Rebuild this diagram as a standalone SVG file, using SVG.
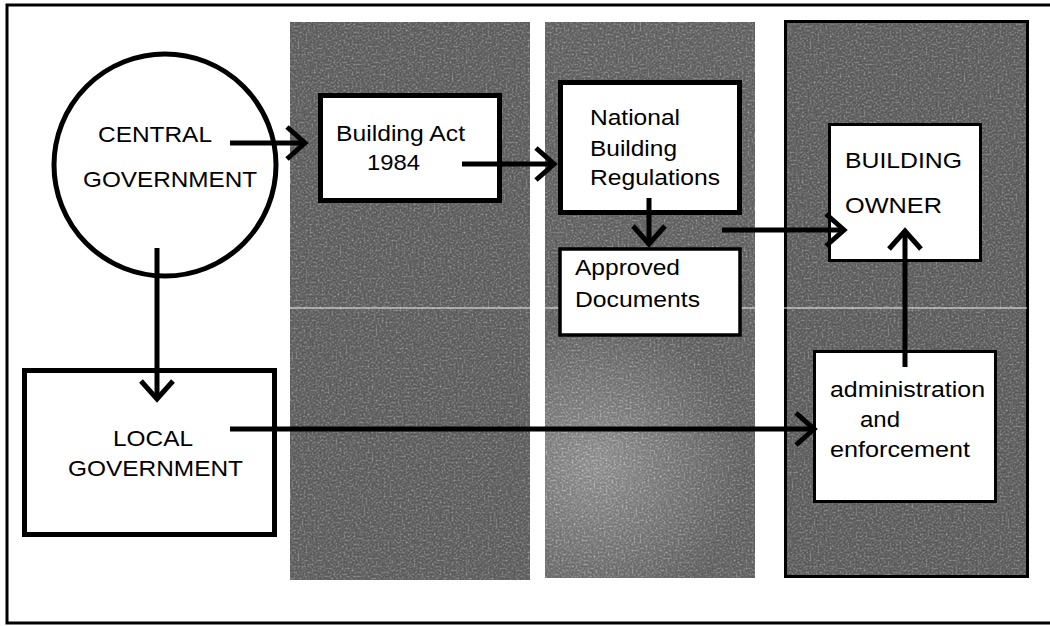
<svg xmlns="http://www.w3.org/2000/svg" width="1050" height="626" viewBox="0 0 1050 626">
  <defs>
    <style>
      .lbl { font-family: "Liberation Sans", Arial, sans-serif; font-size: 22px; fill: #000; }
      .box { fill: #fff; stroke: #000; }
      .thick { stroke-width: 5; }
      .thin { stroke-width: 3; }
      .conn { fill: none; stroke: #000; stroke-width: 5; marker-end: url(#chev); }
      .grain { filter: url(#stipple); fill: #202020; opacity: 0.6; }
    </style>
    <!-- open chevron arrowhead -->
    <marker id="chev" markerUnits="userSpaceOnUse" markerWidth="40" markerHeight="40" refX="0" refY="0" orient="auto" overflow="visible">
      <path d="M-18,-16 L0,0 L-18,16" fill="none" stroke="#000" stroke-width="5"/>
    </marker>
    <!-- black-and-white speckle texture laid over the tinted bands -->
    <filter id="stipple" x="0" y="0" width="1" height="1" color-interpolation-filters="sRGB">
      <feTurbulence type="fractalNoise" baseFrequency="0.5" numOctaves="2" seed="11" result="n"/>
      <feColorMatrix in="n" type="matrix" values="0 0 0 0 0  0 0 0 0 0  0 0 0 0 0  1 0 0 0 0" result="na"/>
      <feColorMatrix in="SourceGraphic" type="matrix" values="0 0 0 0 0  0 0 0 0 0  0 0 0 0 0  1 0 0 0 0" result="sa"/>
      <feComposite in="na" in2="sa" operator="arithmetic" k1="0" k2="1" k3="-1" k4="0.5" result="d"/>
      <feComponentTransfer in="d" result="dots">
        <feFuncA type="discrete" tableValues="0 1"/>
      </feComponentTransfer>
      <feFlood flood-color="#fff" result="paper"/>
      <feMerge result="m">
        <feMergeNode in="paper"/>
        <feMergeNode in="dots"/>
      </feMerge>
      <feComposite in="m" in2="SourceAlpha" operator="in"/>
    </filter>
    <radialGradient id="midFade" gradientUnits="userSpaceOnUse" cx="595" cy="465" r="150">
      <stop offset="0" stop-color="#9a9a9a"/>
      <stop offset="1" stop-color="#2a2a2a"/>
    </radialGradient>
  </defs>

  <rect width="1050" height="626" fill="#fff"/>

  <!-- frame -->
  <path d="M1050,5 H7 V623 H1050" fill="none" stroke="#000" stroke-width="3"/>

  <!-- shaded bands -->
  <g id="bands">
    <rect x="290" y="22" width="240" height="558" fill="#222"/>
    <rect class="grain" x="290" y="22" width="240" height="558"/>
    <rect x="545" y="22" width="210" height="556" fill="url(#midFade)"/>
    <rect class="grain" x="545" y="22" width="210" height="556"/>
    <rect x="785" y="21" width="243" height="556" fill="#202020"/>
    <rect class="grain" x="785" y="21" width="243" height="556"/>
    <rect x="785.5" y="21.5" width="242" height="555" fill="none" stroke="#000" stroke-width="3"/>
    <line x1="290" y1="308" x2="1027" y2="308" stroke="#fff" stroke-width="2" opacity="0.45"/>
  </g>

  <g id="central-government">
    <circle class="box thick" cx="165" cy="165" r="111"/>
    <text class="lbl" x="98" y="142" textLength="114" lengthAdjust="spacingAndGlyphs">CENTRAL</text>
    <text class="lbl" x="83" y="187" textLength="174" lengthAdjust="spacingAndGlyphs">GOVERNMENT</text>
  </g>

  <g id="building-act">
    <rect class="box thick" x="320.5" y="95.5" width="179" height="105"/>
    <text class="lbl" x="336" y="141" textLength="129" lengthAdjust="spacingAndGlyphs">Building Act</text>
    <text class="lbl" x="367" y="170" textLength="53" lengthAdjust="spacingAndGlyphs">1984</text>
  </g>

  <g id="national-building-regulations">
    <rect class="box thick" x="560.5" y="82.5" width="179" height="130"/>
    <text class="lbl" x="590" y="125" textLength="90" lengthAdjust="spacingAndGlyphs">National</text>
    <text class="lbl" x="590" y="156" textLength="87" lengthAdjust="spacingAndGlyphs">Building</text>
    <text class="lbl" x="590" y="185" textLength="130" lengthAdjust="spacingAndGlyphs">Regulations</text>
  </g>

  <g id="approved-documents">
    <rect class="box" stroke-width="3.5" x="560" y="249" width="180" height="86"/>
    <text class="lbl" x="575" y="275" textLength="105" lengthAdjust="spacingAndGlyphs">Approved</text>
    <text class="lbl" x="575" y="307" textLength="125" lengthAdjust="spacingAndGlyphs">Documents</text>
  </g>

  <g id="building-owner">
    <rect class="box thin" x="829.5" y="124.5" width="151" height="136"/>
    <text class="lbl" x="845" y="168" textLength="117" lengthAdjust="spacingAndGlyphs">BUILDING</text>
    <text class="lbl" x="845" y="213" textLength="97" lengthAdjust="spacingAndGlyphs">OWNER</text>
  </g>

  <g id="local-government">
    <rect class="box thick" x="24.5" y="370.5" width="250" height="164"/>
    <text class="lbl" x="113" y="446" textLength="80" lengthAdjust="spacingAndGlyphs">LOCAL</text>
    <text class="lbl" x="68" y="476" textLength="175" lengthAdjust="spacingAndGlyphs">GOVERNMENT</text>
  </g>

  <g id="administration-enforcement">
    <rect class="box thin" x="814.5" y="351.5" width="181" height="150"/>
    <text class="lbl" x="830" y="397" textLength="155" lengthAdjust="spacingAndGlyphs">administration</text>
    <text class="lbl" x="860" y="427" textLength="40" lengthAdjust="spacingAndGlyphs">and</text>
    <text class="lbl" x="830" y="457" textLength="140" lengthAdjust="spacingAndGlyphs">enforcement</text>
  </g>

  <g id="connectors">
    <path class="conn" d="M230,143 H305"/>
    <path class="conn" d="M462,164 H554"/>
    <path class="conn" d="M649,198 V244"/>
    <path class="conn" d="M722,230 H844"/>
    <path class="conn" d="M157,248 V399"/>
    <path class="conn" d="M230,429 H814"/>
    <path class="conn" d="M905,367 V231"/>
  </g>
</svg>
